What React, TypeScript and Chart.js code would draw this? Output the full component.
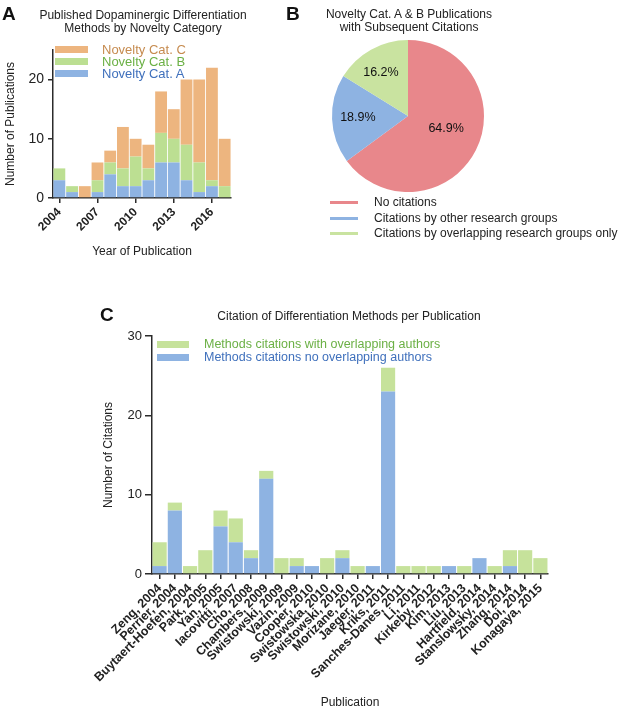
import React, { useEffect, useRef } from "react";
import { Chart, registerables } from "chart.js";

Chart.register(...registerables);

// ---------- DATA ----------
const years = ["2004", "2005", "2006", "2007", "2008", "2009", "2010", "2011", "2012", "2013", "2014", "2015", "2016", "2017"];
const noveltyA = [3, 1, 0, 1, 4, 2, 2, 3, 6, 6, 3, 1, 2, 0];
const noveltyB = [2, 1, 0, 2, 2, 3, 5, 2, 5, 4, 6, 5, 1, 2];
const noveltyC = [0, 0, 2, 3, 2, 7, 3, 4, 7, 5, 11, 14, 19, 8];
const yearTicks = ["2004", "2007", "2010", "2013", "2016"];
const pubYTicks = [0, 10, 20];

const pieLabels = ["No citations", "Citations by other research groups", "Citations by overlapping research groups only"];
const pieValues = [64.9, 18.9, 16.2];

const publications = [
  "Zeng, 2004", "Perrier, 2004", "Buytaert-Hoefen, 2004", "Park, 2005", "Yan, 2005",
  "Iacovitti, 2007", "Cho, 2008", "Chambers, 2009", "Swistowski, 2009", "Vazin, 2009",
  "Cooper, 2010", "Swistowska, 2010", "Swistowski, 2010", "Morizane, 2010", "Jaeger, 2011",
  "Kriks, 2011", "Sanches-Danes, 2011", "Li, 2011", "Kirkeby, 2012", "Kim, 2013",
  "Liu, 2013", "Hartfield, 2014", "Stanslowsky, 2014", "Zhang, 2014", "Doi, 2014", "Konagaya, 2015",
];
const citNoOverlap = [1, 8, 0, 0, 6, 4, 2, 12, 0, 1, 1, 0, 2, 0, 1, 23, 0, 0, 0, 1, 0, 2, 0, 1, 0, 0];
const citOverlap = [3, 1, 1, 3, 2, 3, 1, 1, 2, 1, 0, 2, 1, 1, 0, 3, 1, 1, 1, 0, 1, 0, 1, 2, 3, 2];

// ---------- STYLE ----------
const FONT = '"Liberation Sans", Arial, Helvetica, sans-serif';
const AXIS = "#2b2b2b";
const TXT = "#222";
const ORANGE = "#EDB57F";
const GREEN_A = "#BCDF92";
const BLUE = "#8EB3E2";
const RED = "#E8878B";
const GREEN_PIE = "#C9E3A0";
const GREEN_C = "#C6E29B";
const COL_TXT_C = "#C68B4F";
const COL_TXT_B = "#6BB045";
const COL_TXT_A = "#3F70BC";
const pieLabelPos = [
  { rf: 0.53, da: -8 },
  { rf: 0.66, da: 1 },
  { rf: 0.67, da: -3 },
];

const pieLabelPlugin = {
  id: "pieLabels",
  afterDatasetsDraw(chart: any) {
    const ctx = chart.ctx;
    const meta = chart.getDatasetMeta(0);
    const vals = chart.data.datasets[0].data as number[];
    ctx.save();
    ctx.fillStyle = "#111";
    ctx.font = `12.5px ${FONT}`;
    ctx.textAlign = "center";
    ctx.textBaseline = "middle";
    meta.data.forEach((arc: any, i: number) => {
      const p = arc.getProps(["x", "y", "startAngle", "endAngle", "outerRadius"], true);
      const mid = (p.startAngle + p.endAngle) / 2 + (pieLabelPos[i].da * Math.PI) / 180;
      const r = p.outerRadius * pieLabelPos[i].rf;
      ctx.fillText(vals[i].toFixed(1) + "%", p.x + Math.cos(mid) * r, p.y + Math.sin(mid) * r);
    });
    ctx.restore();
  },
};

function axisCommon(tickLength = 5) {
  return {
    grid: { display: true, drawOnChartArea: false, offset: false, color: AXIS, lineWidth: 1.5, tickLength },
    border: { display: true, color: AXIS, width: 1.5 },
  };
}

function Txt(props: { x: number; y: number; size?: number; bold?: boolean; color?: string; align?: "left" | "center"; children: React.ReactNode; lh?: number }) {
  const { x, y, size = 12, bold, color = TXT, align = "left", children, lh } = props;
  const lineH = lh ?? Math.round(size * 1.15);
  return (
    <div
      style={{
        position: "absolute",
        left: x,
        top: y,
        transform: align === "center" ? "translate(-50%, -50%)" : "translateY(-50%)",
        fontFamily: FONT,
        fontSize: size,
        fontWeight: bold ? 700 : 400,
        color,
        lineHeight: `${lineH}px`,
        whiteSpace: "nowrap",
        textAlign: align,
      }}
    >
      {children}
    </div>
  );
}

function Swatch(props: { x: number; y: number; w: number; h: number; color: string }) {
  const { x, y, w, h, color } = props;
  return <div style={{ position: "absolute", left: x, top: y - h / 2, width: w, height: h, background: color }} />;
}

export default function App() {
  const refA = useRef<HTMLCanvasElement>(null);
  const refB = useRef<HTMLCanvasElement>(null);
  const refC = useRef<HTMLCanvasElement>(null);

  useEffect(() => {
    const charts: Chart[] = [];

    // Panel A
    charts.push(
      new Chart(refA.current!, {
        type: "bar",
        data: {
          labels: years,
          datasets: [
            { label: "Novelty Cat. A", data: noveltyA, backgroundColor: BLUE },
            { label: "Novelty Cat. B", data: noveltyB, backgroundColor: GREEN_A },
            { label: "Novelty Cat. C", data: noveltyC, backgroundColor: ORANGE },
          ],
        },
        options: {
          animation: false,
          responsive: false,
          layout: { padding: { left: 0, top: 50, right: 69, bottom: 0 } },
          plugins: { legend: { display: false }, tooltip: { enabled: false } },
          datasets: { bar: { categoryPercentage: 1, barPercentage: 0.93 } },
          scales: {
            x: {
              stacked: true,
              ...axisCommon(5),
              ticks: { autoSkip: false, minRotation: 45, maxRotation: 45, padding: 2, color: TXT, font: { family: FONT, size: 12, weight: "bold" } },
              afterBuildTicks: (axis: any) => {
                axis.ticks = axis.ticks.filter((t: any) => yearTicks.includes(years[t.value]));
              },
              afterFit: (s: any) => {
                s.height = 67;
              },
              title: { display: true, text: "Year of Publication", color: TXT, font: { family: FONT, size: 12 }, padding: { top: 0, bottom: 6 } },
            },
            y: {
              stacked: true,
              min: 0,
              max: 25,
              ...axisCommon(5),
              ticks: { stepSize: 10, padding: 4, color: TXT, font: { family: FONT, size: 14 } },
              afterBuildTicks: (axis: any) => {
                axis.ticks = axis.ticks.filter((t: any) => pubYTicks.includes(t.value));
              },
              afterFit: (s: any) => {
                s.width = 53;
              },
              title: { display: true, text: "Number of Publications", color: TXT, font: { family: FONT, size: 12 }, padding: { top: 3, bottom: 0 } },
            },
          },
        } as any,
      })
    );

    // Panel B
    charts.push(
      new Chart(refB.current!, {
        type: "pie",
        data: {
          labels: pieLabels,
          datasets: [{ data: pieValues, backgroundColor: [RED, BLUE, GREEN_PIE], borderWidth: 0 }],
        },
        options: {
          animation: false,
          responsive: false,
          layout: { padding: { left: 32, top: 40, right: 136, bottom: 58 } },
          plugins: { legend: { display: false }, tooltip: { enabled: false } },
        } as any,
        plugins: [pieLabelPlugin],
      })
    );

    // Panel C
    charts.push(
      new Chart(refC.current!, {
        type: "bar",
        data: {
          labels: publications,
          datasets: [
            { label: "Methods citations no overlapping authors", data: citNoOverlap, backgroundColor: BLUE },
            { label: "Methods citations with overlapping authors", data: citOverlap, backgroundColor: GREEN_C },
          ],
        },
        options: {
          animation: false,
          responsive: false,
          layout: { padding: { left: 95, top: 36, right: 72, bottom: 0 } },
          plugins: { legend: { display: false }, tooltip: { enabled: false } },
          datasets: { bar: { categoryPercentage: 1, barPercentage: 0.93 } },
          scales: {
            x: {
              stacked: true,
              ...axisCommon(5),
              ticks: { autoSkip: false, minRotation: 45, maxRotation: 45, padding: 2, color: TXT, font: { family: FONT, size: 12.5, weight: "bold" } },
              afterFit: (s: any) => {
                s.height = 136;
              },
              title: { display: true, text: "Publication", color: TXT, font: { family: FONT, size: 12 }, padding: { top: 0, bottom: 0 } },
            },
            y: {
              stacked: true,
              min: 0,
              max: 30,
              ...axisCommon(7),
              ticks: { stepSize: 10, padding: 3, color: TXT, font: { family: FONT, size: 13 } },
              afterFit: (s: any) => {
                s.width = 57;
              },
              title: { display: true, text: "Number of Citations", color: TXT, font: { family: FONT, size: 12 }, padding: { top: 6, bottom: 0 } },
            },
          },
        } as any,
      })
    );

    return () => charts.forEach((c) => c.destroy());
  }, []);

  return (
    <div style={{ position: "absolute", left: 0, top: 0, width: 620, height: 710, background: "#fff", overflow: "hidden" }}>
      <canvas ref={refA} width={300} height={265} style={{ position: "absolute", left: 0, top: 0, width: 300, height: 265 }} />
      <canvas ref={refB} width={320} height={250} style={{ position: "absolute", left: 300, top: 0, width: 320, height: 250 }} />
      <canvas ref={refC} width={620} height={410} style={{ position: "absolute", left: 0, top: 300, width: 620, height: 410 }} />

      {/* Panel letters */}
      <Txt x={2} y={14} size={19} bold color="#111">A</Txt>
      <Txt x={286} y={14} size={19} bold color="#111">B</Txt>
      <Txt x={100} y={315} size={19} bold color="#111">C</Txt>

      {/* Panel A title + legend */}
      <Txt x={143} y={21.5} size={12} align="center" lh={13.5}>
        Published Dopaminergic Differentiation
        <br />
        Methods by Novelty Category
      </Txt>
      <Swatch x={55} y={49} w={33} h={7} color={ORANGE} />
      <Swatch x={55} y={61} w={33} h={7} color={GREEN_A} />
      <Swatch x={55} y={73} w={33} h={7} color={BLUE} />
      <Txt x={102} y={49} size={13} color={COL_TXT_C}>Novelty Cat. C</Txt>
      <Txt x={102} y={61} size={13} color={COL_TXT_B}>Novelty Cat. B</Txt>
      <Txt x={102} y={73} size={13} color={COL_TXT_A}>Novelty Cat. A</Txt>

      {/* Panel B title + legend */}
      <Txt x={409} y={20.5} size={12} align="center" lh={13}>
        Novelty Cat. A &amp; B Publications
        <br />
        with Subsequent Citations
      </Txt>
      <Swatch x={330} y={202} w={28} h={3} color={RED} />
      <Swatch x={330} y={218} w={28} h={3} color={BLUE} />
      <Swatch x={330} y={233} w={28} h={3} color={GREEN_PIE} />
      <Txt x={374} y={202} size={12}>{pieLabels[0]}</Txt>
      <Txt x={374} y={218} size={12}>{pieLabels[1]}</Txt>
      <Txt x={374} y={233} size={12}>{pieLabels[2]}</Txt>

      {/* Panel C title + legend */}
      <Txt x={349} y={316} size={12} align="center">Citation of Differentiation Methods per Publication</Txt>
      <Swatch x={157} y={344} w={32} h={7} color={GREEN_C} />
      <Swatch x={157} y={357} w={32} h={7} color={BLUE} />
      <Txt x={204} y={344} size={12.5} color={COL_TXT_B}>Methods citations with overlapping authors</Txt>
      <Txt x={204} y={357} size={12.5} color={COL_TXT_A}>Methods citations no overlapping authors</Txt>
    </div>
  );
}
